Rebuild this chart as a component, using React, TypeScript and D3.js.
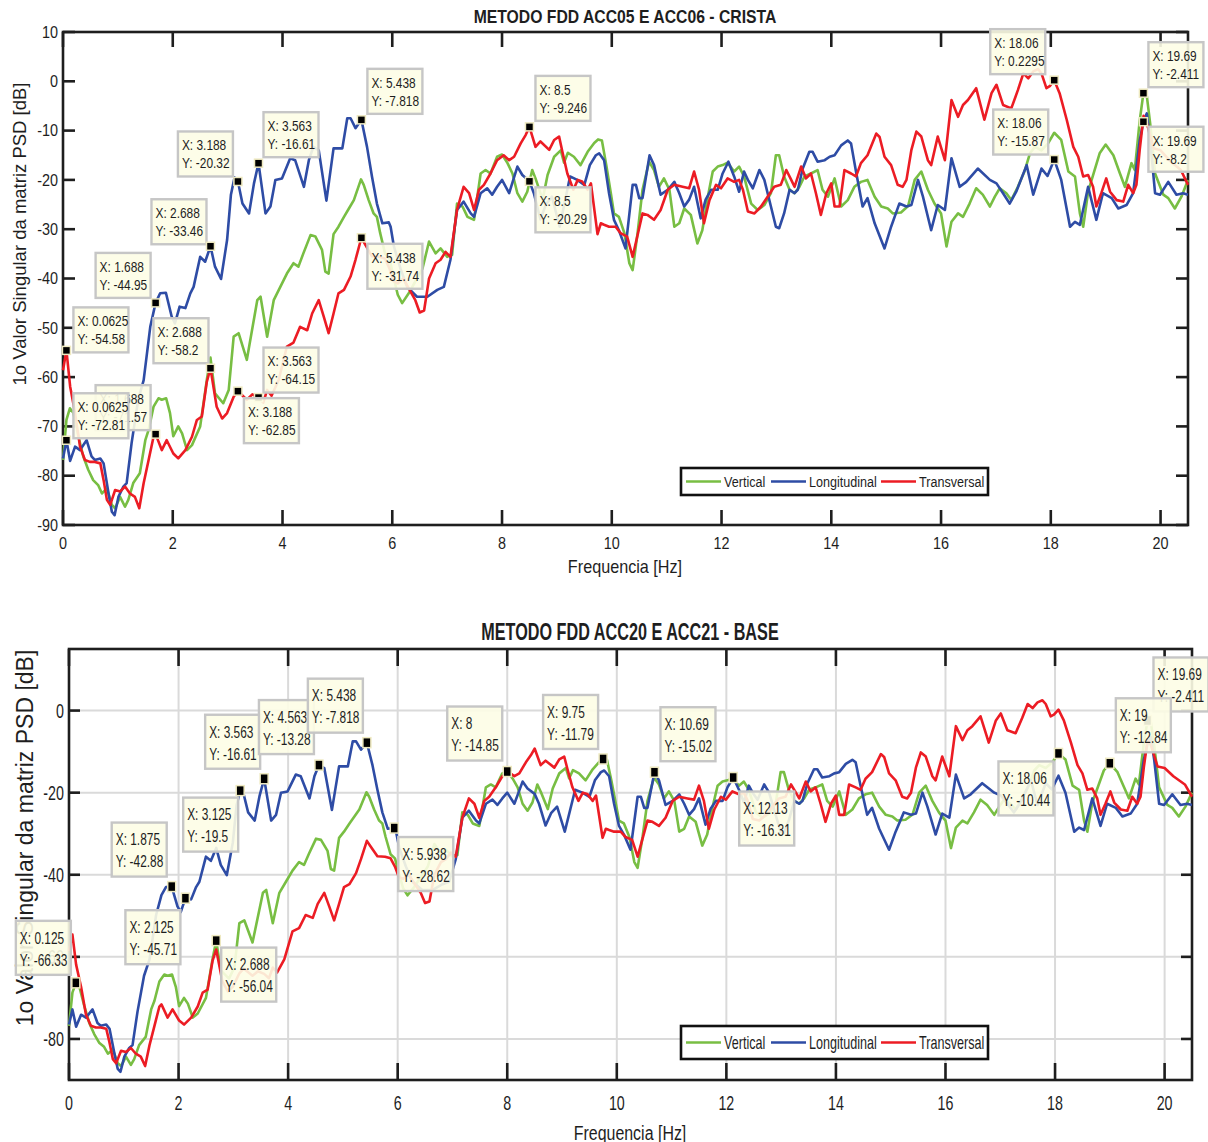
import React from 'react';
import * as d3 from 'd3';

// [frequency Hz, 1st singular value dB] (same spectra in both panels)
const vertical: [number, number][] = [
  [0, -76.8], [0.0625, -68.7], [0.125, -66.33], [0.19, -67.3], [0.28, -72], [0.37, -76.1], [0.46, -78.8], [0.55, -80.9],
  [0.64, -81.9], [0.71, -83.6], [0.8, -82.6], [0.89, -85.9], [0.95, -86.6], [1.04, -84.3], [1.13, -86.3], [1.19, -84.9],
  [1.28, -81.5], [1.4, -79.5], [1.5, -72.8], [1.56, -70.7], [1.65, -66], [1.74, -64.3], [1.8, -64.6], [1.88, -64.3],
  [1.95, -67.3], [2.01, -72], [2.1, -70], [2.17, -71.4], [2.26, -74.8], [2.35, -73.8], [2.5, -70], [2.62, -60.6],
  [2.6875, -56.04], [2.77, -63.3], [2.92, -65.3], [3.02, -62.6], [3.11, -51.8], [3.2, -51.1], [3.35, -56.5], [3.54, -44.4],
  [3.6, -43.7], [3.72, -51.8], [3.84, -44.4], [3.96, -41.7], [4.08, -39], [4.2, -36.9], [4.29, -37.6], [4.38, -34.9],
  [4.51, -31.2], [4.6, -31.5], [4.72, -34.2], [4.78, -38.6], [4.84, -39], [4.93, -31], [5.02, -29.5], [5.12, -27.5],
  [5.21, -25.8], [5.3, -24.1], [5.43, -19.9], [5.48, -21], [5.57, -24.1], [5.66, -26.8], [5.72, -27.5], [5.78, -30.8],
  [5.87, -35], [5.95, -36], [6.03, -40], [6.1, -43.3], [6.18, -45], [6.3, -43], [6.45, -40], [6.55, -38],
  [6.67, -32.5], [6.79, -34.9], [6.88, -33.9], [7.0, -35.6], [7.09, -35.2], [7.18, -24.8], [7.28, -25.4], [7.37, -27.5],
  [7.49, -28.1], [7.61, -18.7], [7.7, -18], [7.79, -18.7], [7.91, -15.3], [8.0, -14.85], [8.1, -16.6], [8.19, -18.7],
  [8.28, -22.7], [8.37, -24.4], [8.46, -22.4], [8.55, -18], [8.61, -19.7], [8.74, -24], [8.83, -19], [8.95, -15.3],
  [9.07, -14], [9.13, -16.5], [9.2, -14.5], [9.31, -15.3], [9.43, -17], [9.56, -14.3], [9.68, -12.5], [9.75, -11.79],
  [9.82, -12], [9.9, -17], [9.98, -22.5], [10.04, -26.8], [10.13, -27.5], [10.23, -30.8], [10.32, -36.9], [10.38, -38.3],
  [10.47, -30.8], [10.56, -22], [10.68, -16.3], [10.77, -18], [10.86, -21.4], [10.95, -19.7], [11.05, -22], [11.14, -29.5],
  [11.23, -28.8], [11.32, -25.8], [11.44, -27.1], [11.56, -32.9], [11.65, -30.2], [11.75, -23.4], [11.84, -18.3], [11.93, -17.3],
  [12.02, -17], [12.11, -16.5], [12.23, -18.3], [12.32, -17.3], [12.41, -19.3], [12.54, -24.8], [12.66, -26.1], [12.78, -25.1],
  [12.9, -22.7], [12.99, -15], [13.05, -15], [13.14, -19.3], [13.24, -22], [13.33, -22.7], [13.42, -21.4], [13.51, -19.3],
  [13.63, -18.7], [13.75, -18], [13.84, -22], [13.94, -23.4], [14.06, -19.7], [14.18, -25.4], [14.3, -24.1], [14.42, -21.4],
  [14.54, -20.4], [14.66, -20], [14.79, -23.4], [14.91, -25.4], [15.03, -25.8], [15.12, -26.8], [15.27, -26.6], [15.4, -25.3],
  [15.52, -20], [15.64, -18.3], [15.76, -22], [15.88, -24.8], [16.0, -26.8], [16.1, -33.5], [16.19, -28.5], [16.31, -26.8],
  [16.4, -27.5], [16.52, -24.8], [16.64, -21.7], [16.76, -23], [16.89, -25.4], [16.98, -23.4], [17.07, -21.7], [17.19, -22.7],
  [17.28, -24.1], [17.4, -21.4], [17.52, -18.3], [17.62, -14.6], [17.71, -13.3], [17.83, -14], [17.95, -12.6], [18.0625, -10.44],
  [18.19, -11.9], [18.32, -18.3], [18.44, -19.3], [18.53, -26.8], [18.59, -29.5], [18.68, -22.4], [18.89, -14.6], [19.0, -12.84],
  [19.14, -15], [19.26, -18.7], [19.35, -21.4], [19.47, -16.6], [19.53, -18], [19.62, -8], [19.6875, -2.411], [19.75, -3],
  [19.81, -8.5], [19.9, -18.7], [20.05, -23], [20.14, -23.7], [20.26, -25.8], [20.38, -23.4], [20.5, -20],
];

const longitudinal: [number, number][] = [
  [0, -76.5], [0.0625, -72.81], [0.13, -77], [0.22, -74.1], [0.31, -74.8], [0.43, -72.8], [0.52, -76.1], [0.58, -76.8],
  [0.68, -76.5], [0.74, -77.5], [0.83, -83.6], [0.89, -87.3], [0.94, -88], [1.01, -84.3], [1.1, -82.2], [1.16, -81.5],
  [1.25, -73.4], [1.37, -64.6], [1.47, -60.6], [1.59, -49.8], [1.6875, -44.95], [1.77, -43], [1.875, -42.88], [1.98, -47.7],
  [2.04, -49.1], [2.125, -45.71], [2.23, -46], [2.32, -43], [2.38, -41.7], [2.5, -35.6], [2.59, -36.6], [2.6875, -33.46],
  [2.77, -37.6], [2.88, -40.1], [2.99, -32.2], [3.06, -23], [3.125, -19.5], [3.1875, -20.32], [3.27, -24.8], [3.39, -26.8],
  [3.48, -20.7], [3.5625, -16.61], [3.69, -26.8], [3.78, -25.4], [3.87, -20], [3.99, -19.7], [4.14, -15.6], [4.23, -16],
  [4.39, -21.4], [4.48, -16], [4.5625, -13.28], [4.66, -14], [4.8, -24.2], [4.93, -13.6], [5.09, -13.6], [5.18, -7.5],
  [5.24, -7.5], [5.33, -9.5], [5.4375, -7.818], [5.54, -13.3], [5.63, -19.3], [5.72, -24.8], [5.82, -28.8], [5.9375, -28.62],
  [5.97, -29.5], [6.03, -33.5], [6.15, -38], [6.27, -41.7], [6.45, -43.7], [6.64, -43.7], [6.82, -42.3], [6.94, -41.7],
  [7.06, -36.2], [7.18, -26.1], [7.3, -24.4], [7.43, -26.8], [7.49, -27.5], [7.61, -22.7], [7.73, -21.7], [7.82, -23],
  [7.91, -21.4], [8.0, -20], [8.13, -22.7], [8.28, -17.3], [8.37, -19], [8.5, -20.29], [8.58, -22.7], [8.7, -28],
  [8.8, -25], [8.91, -23.4], [9.05, -29.5], [9.24, -19.3], [9.37, -20], [9.5, -21], [9.6, -17], [9.71, -15],
  [9.77, -14.6], [9.86, -16], [9.95, -22.7], [10.04, -28.1], [10.13, -30.2], [10.25, -33.9], [10.38, -21], [10.44, -21],
  [10.5, -23.7], [10.56, -23.7], [10.6875, -15.02], [10.77, -17], [10.89, -23], [11.02, -22], [11.14, -20.4], [11.23, -22.7],
  [11.32, -25.4], [11.41, -24], [11.5, -21.4], [11.62, -27.8], [11.71, -24], [11.81, -22], [11.93, -22], [12.02, -18.7],
  [12.125, -16.31], [12.23, -19.3], [12.32, -22.4], [12.41, -18.3], [12.48, -20], [12.57, -21.7], [12.69, -18], [12.78, -20],
  [12.9, -25.4], [12.99, -29.5], [13.05, -29.8], [13.14, -26.8], [13.24, -22], [13.33, -22.7], [13.39, -22], [13.48, -17.7],
  [13.6, -14.3], [13.66, -14.3], [13.75, -16.3], [13.88, -16], [13.97, -15.3], [14.06, -15], [14.18, -13], [14.3, -12],
  [14.36, -12.6], [14.45, -18.3], [14.57, -25.4], [14.66, -23.7], [14.79, -28.8], [14.97, -33.9], [15.09, -29.5], [15.24, -24.8],
  [15.37, -25.4], [15.46, -25.1], [15.58, -20], [15.67, -23.4], [15.82, -30.2], [15.94, -25.1], [16.07, -26.1], [16.19, -15.6],
  [16.34, -21.4], [16.46, -20.4], [16.67, -17.7], [16.89, -20], [17.01, -20.7], [17.13, -22.7], [17.25, -24.8], [17.37, -22.4],
  [17.56, -17], [17.68, -23], [17.83, -17.7], [17.94, -19.2], [18.0625, -15.87], [18.19, -20], [18.35, -29.5], [18.44, -28.5],
  [18.53, -29.1], [18.68, -21.4], [18.83, -28.1], [18.95, -22.7], [19.11, -23.7], [19.23, -25.8], [19.38, -25.1], [19.5, -22.7],
  [19.62, -12], [19.6875, -8.2], [19.75, -6.5], [19.81, -12], [19.9, -22.7], [19.99, -23], [20.14, -20.4], [20.29, -23],
  [20.41, -22.7], [20.5, -23],
];

const transversal: [number, number][] = [
  [0, -58.6], [0.0625, -54.58], [0.13, -61.9], [0.22, -67.3], [0.31, -74.1], [0.4, -76.8], [0.49, -77.2], [0.58, -77.2],
  [0.68, -77.5], [0.74, -80.9], [0.8, -84.9], [0.86, -85.9], [0.95, -82.9], [1.04, -83.2], [1.13, -82.2], [1.22, -83.6],
  [1.31, -84.3], [1.39, -86.6], [1.47, -81.5], [1.56, -76.8], [1.65, -72.1], [1.6875, -71.57], [1.8, -74.8], [1.89, -72.8],
  [2.01, -75.5], [2.1, -76.5], [2.23, -74.8], [2.35, -72.1], [2.44, -68.7], [2.53, -68], [2.62, -61], [2.6875, -58.2],
  [2.8, -66], [2.9, -68.4], [2.99, -67.3], [3.11, -64], [3.1875, -62.85], [3.35, -64.6], [3.45, -63.5], [3.5625, -64.15],
  [3.65, -65.2], [3.72, -62.6], [3.8, -63.8], [3.93, -60.6], [4.08, -53.8], [4.2, -53], [4.32, -49.8], [4.45, -50.5],
  [4.54, -47.1], [4.66, -44.4], [4.75, -47.7], [4.84, -51.1], [4.93, -47.1], [5.02, -43], [5.12, -42.3], [5.24, -39.6],
  [5.33, -36.2], [5.4375, -31.74], [5.5, -33], [5.63, -35.5], [5.77, -35.6], [5.87, -36], [5.95, -38], [6.02, -40.5],
  [6.1, -41], [6.2, -40], [6.3, -42], [6.42, -44.4], [6.5, -46.9], [6.58, -46.5], [6.67, -40], [6.79, -36.9],
  [6.88, -36.2], [6.97, -34.6], [7.06, -35.6], [7.18, -26.1], [7.3, -21.4], [7.4, -22.7], [7.49, -26.1], [7.58, -22],
  [7.67, -21], [7.79, -18.7], [7.91, -16], [8.03, -15], [8.13, -16], [8.22, -15.3], [8.34, -12.6], [8.43, -10.9],
  [8.5, -9.246], [8.61, -13.3], [8.7, -12.2], [8.86, -13.9], [8.95, -11.9], [9.04, -11.2], [9.1, -14.3], [9.19, -18.7],
  [9.3, -22], [9.38, -20], [9.46, -20.3], [9.56, -22], [9.62, -20.7], [9.74, -31], [9.8, -28.8], [9.86, -29.1],
  [9.95, -29.5], [10.07, -29.5], [10.16, -30.8], [10.28, -31.5], [10.38, -35.6], [10.56, -26.8], [10.65, -27.1], [10.77, -28.1],
  [10.89, -26.1], [11.02, -22], [11.14, -21], [11.29, -21.4], [11.41, -21.7], [11.5, -18.3], [11.59, -22], [11.68, -28.8],
  [11.78, -24.1], [11.9, -21], [11.99, -21.7], [12.11, -19.7], [12.23, -20.4], [12.32, -20], [12.39, -22], [12.48, -26.4],
  [12.6, -26.8], [12.72, -25.4], [12.84, -23.4], [12.96, -21.4], [13.08, -21], [13.18, -18], [13.27, -20], [13.33, -21.4],
  [13.45, -17.3], [13.54, -19.7], [13.63, -18.7], [13.72, -22.7], [13.81, -27.1], [13.91, -22.7], [14.0, -20.7], [14.06, -25.4],
  [14.15, -25.4], [14.24, -18], [14.36, -18.7], [14.45, -19.3], [14.54, -16.6], [14.66, -15], [14.82, -10.6], [14.88, -11.3],
  [14.97, -15.3], [15.09, -17], [15.21, -21], [15.3, -21.4], [15.37, -20], [15.46, -13.9], [15.55, -10.2], [15.64, -11.2],
  [15.76, -16], [15.82, -17], [15.94, -11.2], [16.07, -16], [16.19, -3.8], [16.31, -7.2], [16.4, -4.8], [16.49, -3.8],
  [16.64, -1.4], [16.79, -7.8], [16.92, -2.4], [17.01, -0.7], [17.13, -4.8], [17.28, -5.5], [17.4, -1.8], [17.5, 1.6],
  [17.59, 0.6], [17.68, 2], [17.77, 2.5], [17.83, 1.6], [17.92, -1.4], [17.98, -1], [18.0625, 0.2295], [18.16, -2.4],
  [18.29, -7.8], [18.41, -13.3], [18.5, -15.3], [18.59, -19.3], [18.68, -19], [18.77, -21.4], [18.83, -25.4], [18.92, -22.7],
  [19.01, -19.7], [19.08, -22.4], [19.2, -24.1], [19.32, -24.4], [19.41, -21], [19.5, -22.7], [19.56, -21], [19.62, -13.9],
  [19.69, -7], [19.75, -8.5], [19.81, -11], [19.87, -13.6], [20.0, -14], [20.16, -16], [20.37, -18], [20.5, -21],
];

const seriesNames = ['Vertical', 'Longitudinal', 'Transversal'];
const seriesColors = ['#78be43', '#2e4ca5', '#ec1c24'];

const freqTicks = [0, 2, 4, 6, 8, 10, 12, 14, 16, 18, 20];
const dbTicksCrista = [-90, -80, -70, -60, -50, -40, -30, -20, -10, 0, 10];
const dbTicksBase = [-80, -60, -40, -20, 0];

// data tips [frequency, dB] as shown in each panel
const tipsCrista: [number, number][] = [
  [0.0625, -54.58], [1.6875, -71.57], [0.0625, -72.81], [1.6875, -44.95], [2.6875, -33.46], [2.6875, -58.2],
  [3.1875, -20.32], [3.5625, -64.15], [3.1875, -62.85], [3.5625, -16.61], [5.4375, -7.818], [5.4375, -31.74],
  [8.5, -9.246], [8.5, -20.29], [18.0625, 0.2295], [18.0625, -15.87], [19.6875, -2.411], [19.6875, -8.2],
];
const tipsBase: [number, number][] = [
  [0.125, -66.33], [1.875, -42.88], [2.125, -45.71], [2.6875, -56.04], [3.125, -19.5], [3.5625, -16.61],
  [4.5625, -13.28], [5.4375, -7.818], [5.9375, -28.62], [8, -14.85], [9.75, -11.79], [10.6875, -15.02],
  [12.125, -16.31], [18.0625, -10.44], [19.6875, -2.411], [19, -12.84],
];

// box offsets (px) from the tip marker, same order as the tips
const tipBoxCrista = [
  [7, -43], [-60, -49], [7, -47], [-60, -50], [-59, -47], [-57, -50], [-60, -50], [5, -50], [6, 7],
  [5, -51], [6, -51], [6, 6], [6, -51], [6, 6], [-64, -51], [-61, -50], [5, -51], [5, 5],
];
const tipBoxBase = [
  [-60, -62], [-60, -64], [-60, 12], [5, 7], [-57, 7], [-59, -64], [-60, -65], [-59, -64],
  [4, 9], [-60, -65], [-60, -64], [6, -65], [6, 14], [-60, 8], [6, -63], [6, -65],
];

const FONT = '"Liberation Sans", Arial, Helvetica, sans-serif';
const INK = '#1e1e1e';

const fmt = (v: number) => String(parseFloat(v.toPrecision(4)));

const Txt = ({ x, y, size, sx, anchor = 'middle', weight = 'normal', children }: any) => (
  <text
    transform={`translate(${x},${y}) scale(${sx},1)`}
    fontSize={size}
    fontFamily={FONT}
    fontWeight={weight}
    textAnchor={anchor}
    dominantBaseline="central"
    fill={INK}
  >
    {children}
  </text>
);

const Chart = ({ cfg, tips, boxes }: any) => {
  const x = d3.scaleLinear().domain([0, 20.5]).range([cfg.left, cfg.right]);
  const y = d3.scaleLinear().domain(cfg.yDomain).range([cfg.bottom, cfg.top]);
  const line = d3.line<[number, number]>().x(d => x(d[0])).y(d => y(d[1]));
  const series = [vertical, longitudinal, transversal];
  const t = cfg.text;

  return (
    <g>
      {cfg.grid && (
        <g stroke="#dadada" strokeWidth={2}>
          {freqTicks.map(f => <line key={'gx' + f} x1={x(f)} x2={x(f)} y1={cfg.top} y2={cfg.bottom} />)}
          {cfg.yTicks.map((v: number) => <line key={'gy' + v} x1={cfg.left} x2={cfg.right} y1={y(v)} y2={y(v)} />)}
        </g>
      )}

      {/* axis box and inward ticks */}
      <g stroke={INK} strokeWidth={2.6} fill="none">
        <rect x={cfg.left} y={cfg.top} width={cfg.right - cfg.left} height={cfg.bottom - cfg.top} />
        {freqTicks.map(f => (
          <g key={'tx' + f}>
            <line x1={x(f)} x2={x(f)} y1={cfg.bottom} y2={cfg.bottom - cfg.xTick} />
            <line x1={x(f)} x2={x(f)} y1={cfg.top} y2={cfg.top + cfg.xTick} />
          </g>
        ))}
        {cfg.yTicks.map((v: number) => (
          <g key={'ty' + v}>
            <line x1={cfg.left} x2={cfg.left + cfg.yTick} y1={y(v)} y2={y(v)} />
            <line x1={cfg.right} x2={cfg.right - cfg.yTick} y1={y(v)} y2={y(v)} />
          </g>
        ))}
      </g>

      {freqTicks.map(f => (
        <Txt key={'lx' + f} x={x(f)} y={cfg.bottom + t.xTickGap} size={t.tick} sx={t.tickSx}>{f}</Txt>
      ))}
      {cfg.yTicks.map((v: number) => (
        <Txt key={'ly' + v} x={cfg.left - 5} y={y(v)} size={t.tick} sx={t.tickSx} anchor="end">{v}</Txt>
      ))}

      <Txt x={cfg.titleX} y={cfg.titleY} size={t.title} sx={t.titleSx} weight="bold">{cfg.title}</Txt>
      <Txt x={cfg.titleX} y={cfg.xLabelY} size={t.xLabel} sx={t.xLabelSx}>Frequencia [Hz]</Txt>
      <text
        transform={`translate(${cfg.yLabelX},${cfg.yLabelY}) rotate(-90)`}
        fontSize={t.yLabel}
        fontFamily={FONT}
        textAnchor="middle"
        dominantBaseline="central"
        fill={INK}
      >
        1o Valor Singular da matriz PSD [dB]
      </text>

      {series.map((s, i) => (
        <path key={'s' + i} d={line(s) || ''} fill="none" stroke={seriesColors[i]} strokeWidth={2.6} strokeLinejoin="round" />
      ))}

      {/* legend */}
      <g transform={`translate(${cfg.legendX},${cfg.legendY})`}>
        <rect width={307} height={cfg.legendH} fill="#fff" stroke="#111" strokeWidth={2.6} />
        {seriesNames.map((n, i) => {
          const lx = [5, 90, 200][i];
          return (
            <g key={n}>
              <line x1={lx} x2={lx + 35} y1={cfg.legendH / 2} y2={cfg.legendH / 2} stroke={seriesColors[i]} strokeWidth={2.6} />
              <Txt x={lx + 38} y={cfg.legendH / 2} size={t.legend} sx={t.legendSx} anchor="start">{n}</Txt>
            </g>
          );
        })}
      </g>

      {/* data tips */}
      {tips.map(([f, v]: [number, number], i: number) => {
        const px = x(f);
        const py = y(v);
        const bx = px + boxes[i][0];
        const by = py + boxes[i][1];
        return (
          <g key={'tip' + i}>
            <rect x={bx} y={by} width={55} height={cfg.tipH} fill="#fdfde6" fillOpacity={0.9} stroke="#c6c6c6" strokeWidth={2.4} />
            <Txt x={bx + 4} y={by + cfg.tipL1} size={t.tip} sx={t.tipSx} anchor="start">{`X: ${fmt(f)}`}</Txt>
            <Txt x={bx + 4} y={by + cfg.tipL2} size={t.tip} sx={t.tipSx} anchor="start">{`Y: ${fmt(v)}`}</Txt>
            <rect x={px - 4} y={py - cfg.markH / 2} width={8} height={cfg.markH} fill="#000" stroke="#eee9c0" strokeWidth={1.5} />
          </g>
        );
      })}
    </g>
  );
};

const cristaCfg = {
  title: 'METODO FDD ACC05 E ACC06 - CRISTA',
  left: 63, right: 1188, top: 32, bottom: 525,
  yDomain: [-90, 10], yTicks: dbTicksCrista, grid: false,
  xTick: 15, yTick: 12,
  titleX: 625, titleY: 17, xLabelY: 567, yLabelX: 19, yLabelY: 234,
  legendX: 681, legendY: 468, legendH: 27,
  tipH: 45, tipL1: 14, tipL2: 32, markH: 8,
  text: { tick: 16, tickSx: 0.9, xTickGap: 18, title: 18, titleSx: 0.875, xLabel: 18, xLabelSx: 0.9, yLabel: 18.5, legend: 15, legendSx: 0.84, tip: 14, tipSx: 0.85 },
};

const baseCfg = {
  title: 'METODO FDD ACC20 E ACC21 - BASE',
  left: 69, right: 1192, top: 649, bottom: 1080,
  yDomain: [-90, 15], yTicks: dbTicksBase, grid: true,
  xTick: 17, yTick: 11,
  titleX: 630, titleY: 632, xLabelY: 1133, yLabelX: 25, yLabelY: 838,
  legendX: 681, legendY: 1026, legendH: 33,
  tipH: 54, tipL1: 17, tipL2: 39, markH: 10,
  text: { tick: 21, tickSx: 0.68, xTickGap: 23, title: 23.5, titleSx: 0.69, xLabel: 21, xLabelSx: 0.76, yLabel: 23, legend: 18, legendSx: 0.7, tip: 17, tipSx: 0.7 },
};

export default function App() {
  return (
    <div style={{ position: 'absolute', left: 0, top: 0 }}>
      <svg width={1208} height={1142} viewBox="0 0 1208 1142" style={{ display: 'block', background: '#fff' }}>
        <Chart cfg={cristaCfg} tips={tipsCrista} boxes={tipBoxCrista} />
        <Chart cfg={baseCfg} tips={tipsBase} boxes={tipBoxBase} />
      </svg>
    </div>
  );
}
